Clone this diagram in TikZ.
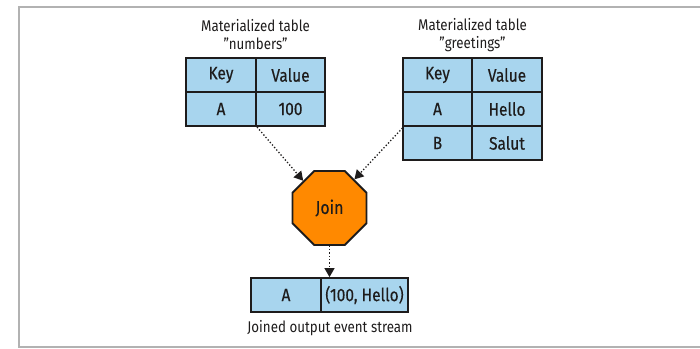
\documentclass[tikz,border=0pt]{standalone}
\usepackage{fontspec}
\setmainfont[FakeStretch=0.86]{Fira Sans}
\newfontfamily\cellfont[FakeStretch=0.86,FakeBold=0.35]{Fira Sans}
\usetikzlibrary{shapes.geometric,arrows.meta}
\definecolor{cellblue}{RGB}{168,213,238}
\definecolor{joinorange}{RGB}{255,137,0}
\definecolor{framegray}{RGB}{178,178,178}
\definecolor{inkcol}{RGB}{30,28,28}
\tikzset{
  cell/.style={draw=inkcol, line width=1.8pt, fill=cellblue, minimum height=34pt, inner sep=0pt, text=inkcol, font=\cellfont\fontsize{18}{20}\selectfont},
  title/.style={align=center, text=inkcol, font=\fontsize{15.5}{18}\selectfont, inner sep=0pt},
  joinbox/.style={regular polygon, regular polygon sides=8, draw=inkcol, line width=1.8pt, fill=joinorange, minimum size=80pt, inner sep=0pt, text=inkcol, font=\cellfont\fontsize{18.5}{20}\selectfont},
  flow/.style={dotted, line width=1.3pt, draw=inkcol, -{Triangle[length=9pt,width=10pt]}}
}
\begin{document}
\begin{tikzpicture}[x=1pt,y=-1pt]
\useasboundingbox (0,0) rectangle (700,348);
\draw[framegray, line width=1.6pt] (700,7) -- (18.8,7) -- (18.8,347) -- (700,347);
% numbers table
\node[cell, minimum width=70pt] (n11) at (221,75) {Key};
\node[cell, minimum width=69pt] (n12) at (290.5,75) {Value};
\node[cell, minimum width=70pt] (n21) at (221,109) {A};
\node[cell, minimum width=69pt] (n22) at (290.5,109) {100};
\node[title] (nt) at (255.5,35) {Materialized table\\"numbers"};
% greetings table
\node[cell, minimum width=69pt] (g11) at (437.5,75) {Key};
\node[cell, minimum width=70pt] (g12) at (507,75) {Value};
\node[cell, minimum width=69pt] (g21) at (437.5,109) {A};
\node[cell, minimum width=70pt] (g22) at (507,109) {Hello};
\node[cell, minimum width=69pt] (g31) at (437.5,143) {B};
\node[cell, minimum width=70pt] (g32) at (507,143) {Salut};
\node[title] (gt) at (472.5,35) {Materialized table\\"greetings"};
% join
\node[joinbox] (join) at (329.5,208) {Join};
% output
\node[cell, minimum width=70pt] (o1) at (286,295) {A};
\node[cell, minimum width=87pt] (o2) at (364.5,295) {(100, Hello)};
\node[title] (ot) at (330,328) {Joined output event stream};
% connectors
\coordinate (ns) at (257,127);
\coordinate (gs) at (402.5,128);
\draw[flow] (ns) -- (join.134);
\draw[flow] (gs) -- (join.49);
\draw[flow] (join.south) -- (o1.north east -| join.south);
\end{tikzpicture}
\end{document}
